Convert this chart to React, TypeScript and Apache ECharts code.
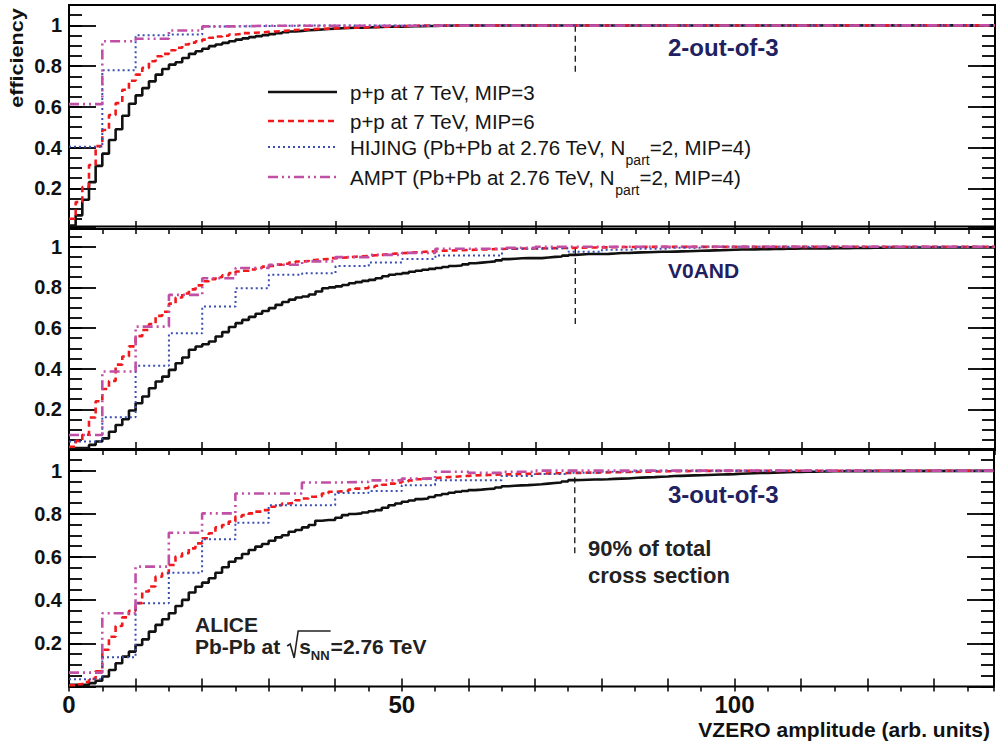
import React, { useEffect, useRef } from 'react';
import * as echarts from 'echarts';

// ---------- axis ranges ----------
const X_MAX = 139;
const Y_MAX = 1.1;
const PP_BIN = 1; // bin width of p+p histograms
const MC_BIN = 5; // bin width of HIJING / AMPT histograms
const X_TICK_LABELS = [0, 50, 100];
const Y_TICK_LABELS = [0.2, 0.4, 0.6, 0.8, 1];

const SERIES_NAMES = [
  'p+p at 7 TeV, MIP=3',
  'p+p at 7 TeV, MIP=6',
  'HIJING (Pb+Pb at 2.76 TeV, Npart=2, MIP=4)',
  'AMPT (Pb+Pb at 2.76 TeV, Npart=2, MIP=4)',
];
const PANEL_TITLES = ['2-out-of-3', 'V0AND', '3-out-of-3'];

// ---------- panel 1 : 2-out-of-3 ----------
const pp3_2of3 = [0.017, 0.067, 0.144, 0.23, 0.31, 0.37, 0.437, 0.49, 0.556, 0.615, 0.656, 0.692, 0.725, 0.758, 0.786, 0.807, 0.819, 0.84, 0.86, 0.873, 0.885, 0.898, 0.906, 0.914, 0.922, 0.93, 0.936, 0.942, 0.947, 0.952, 0.957, 0.962, 0.966, 0.97, 0.973, 0.976, 0.978, 0.98, 0.982, 0.984, 0.986, 0.987, 0.988, 0.989, 0.99, 0.991, 0.992, 0.993, 0.994, 0.994, 0.995, 0.996, 0.996, 0.997, 0.997, 0.998, 0.998, 0.999, 0.999, 1.0];
const pp6_2of3 = [0.05, 0.132, 0.206, 0.314, 0.407, 0.486, 0.56, 0.618, 0.684, 0.728, 0.758, 0.791, 0.824, 0.848, 0.86, 0.878, 0.89, 0.906, 0.915, 0.922, 0.93, 0.939, 0.945, 0.949, 0.955, 0.958, 0.962, 0.964, 0.966, 0.968, 0.97, 0.972, 0.975, 0.977, 0.979, 0.98, 0.982, 0.983, 0.984, 0.985, 0.987, 0.988, 0.989, 0.99, 0.991, 0.992, 0.993, 0.994, 0.995, 0.996, 0.997, 0.998, 0.999, 1.0];
const hijing_2of3 = [0.404, 0.779, 0.951, 0.955, 0.995, 0.997, 0.999, 1.0];
const ampt_2of3 = [0.613, 0.922, 0.934, 0.975, 0.995, 0.998, 1.0];

// ---------- panel 2 : V0AND ----------
const pp3_v0and = [0.01, 0.01, 0.01, 0.025, 0.042, 0.057, 0.09, 0.123, 0.151, 0.194, 0.23, 0.263, 0.304, 0.337, 0.361, 0.394, 0.427, 0.455, 0.493, 0.509, 0.52, 0.534, 0.558, 0.58, 0.605, 0.624, 0.64, 0.655, 0.67, 0.684, 0.698, 0.714, 0.728, 0.74, 0.75, 0.755, 0.765, 0.78, 0.796, 0.8, 0.805, 0.812, 0.82, 0.826, 0.832, 0.837, 0.845, 0.855, 0.862, 0.866, 0.87, 0.877, 0.882, 0.887, 0.891, 0.895, 0.9, 0.905, 0.908, 0.913, 0.919, 0.922, 0.925, 0.928, 0.933, 0.939, 0.941, 0.943, 0.944, 0.944, 0.944, 0.947, 0.95, 0.952, 0.956, 0.96, 0.962, 0.964, 0.964, 0.964, 0.965, 0.967, 0.969, 0.969, 0.971, 0.972, 0.973, 0.974, 0.975, 0.975, 0.976, 0.977, 0.978, 0.979, 0.98, 0.981, 0.982, 0.983, 0.984, 0.985, 0.986, 0.986, 0.987, 0.988, 0.988, 0.989, 0.989, 0.99, 0.99, 0.991, 0.991, 0.992, 0.992, 0.992, 0.993, 0.993, 0.993, 0.994, 0.994, 0.994, 0.995, 0.995, 0.996, 0.996, 0.996, 0.997];
const pp6_v0and = [0.016, 0.045, 0.075, 0.16, 0.24, 0.3, 0.34, 0.42, 0.46, 0.51, 0.56, 0.59, 0.62, 0.66, 0.68, 0.72, 0.75, 0.77, 0.79, 0.81, 0.83, 0.84, 0.85, 0.86, 0.87, 0.878, 0.882, 0.888, 0.895, 0.902, 0.906, 0.912, 0.916, 0.922, 0.927, 0.93, 0.935, 0.938, 0.94, 0.944, 0.946, 0.948, 0.951, 0.953, 0.955, 0.958, 0.96, 0.963, 0.966, 0.968, 0.97, 0.972, 0.974, 0.976, 0.978, 0.98, 0.981, 0.982, 0.983, 0.984, 0.985, 0.986, 0.987, 0.988, 0.989, 0.99, 0.99, 0.991, 0.991, 0.992, 0.992, 0.993, 0.993, 0.994, 0.994, 0.995, 0.995, 0.996, 0.996, 0.997, 0.997, 0.998, 0.998, 0.999, 0.999, 1.0];
const hijing_v0and = [0.042, 0.161, 0.415, 0.574, 0.706, 0.796, 0.862, 0.87, 0.905, 0.923, 0.94, 0.957, 0.957, 0.99, 0.993, 0.975, 0.985, 0.99, 0.995, 1.0];
const ampt_v0and = [0.074, 0.386, 0.607, 0.763, 0.845, 0.895, 0.911, 0.928, 0.949, 0.96, 0.97, 0.99, 0.99, 0.995, 1.0];

// ---------- panel 3 : 3-out-of-3 ----------
const pp3_3of3 = [0.007, 0.007, 0.007, 0.015, 0.026, 0.046, 0.076, 0.107, 0.138, 0.161, 0.192, 0.218, 0.254, 0.285, 0.311, 0.339, 0.373, 0.401, 0.435, 0.462, 0.481, 0.501, 0.527, 0.552, 0.578, 0.594, 0.614, 0.632, 0.648, 0.66, 0.675, 0.691, 0.701, 0.717, 0.725, 0.737, 0.748, 0.768, 0.771, 0.771, 0.782, 0.794, 0.799, 0.802, 0.806, 0.812, 0.817, 0.828, 0.84, 0.848, 0.856, 0.862, 0.868, 0.871, 0.878, 0.886, 0.892, 0.898, 0.902, 0.906, 0.91, 0.912, 0.915, 0.917, 0.922, 0.928, 0.93, 0.932, 0.933, 0.935, 0.937, 0.94, 0.943, 0.945, 0.95, 0.956, 0.957, 0.958, 0.959, 0.959, 0.96, 0.962, 0.963, 0.964, 0.966, 0.968, 0.969, 0.97, 0.972, 0.973, 0.975, 0.976, 0.977, 0.978, 0.979, 0.98, 0.981, 0.982, 0.983, 0.984, 0.986, 0.987, 0.988, 0.989, 0.99, 0.991, 0.992, 0.993, 0.994, 0.994, 0.995, 0.995, 0.996, 0.996, 0.997, 0.997, 0.998, 0.998, 0.999];
const pp6_3of3 = [0.005, 0.01, 0.02, 0.035, 0.07, 0.17, 0.23, 0.28, 0.32, 0.35, 0.386, 0.44, 0.463, 0.509, 0.525, 0.563, 0.602, 0.617, 0.64, 0.663, 0.687, 0.71, 0.737, 0.748, 0.764, 0.787, 0.794, 0.802, 0.81, 0.817, 0.833, 0.84, 0.848, 0.851, 0.863, 0.871, 0.879, 0.882, 0.894, 0.902, 0.904, 0.906, 0.913, 0.917, 0.92, 0.925, 0.93, 0.935, 0.94, 0.945, 0.95, 0.955, 0.96, 0.963, 0.965, 0.968, 0.97, 0.972, 0.974, 0.976, 0.978, 0.979, 0.98, 0.981, 0.982, 0.983, 0.984, 0.985, 0.985, 0.986, 0.986, 0.987, 0.988, 0.988, 0.989, 0.99, 0.99, 0.991, 0.991, 0.992, 0.992, 0.993, 0.993, 0.994, 0.994, 0.995, 0.995, 0.996, 0.996, 0.997, 0.997, 0.998, 0.998, 0.999, 0.999, 1.0];
const hijing_3of3 = [0.033, 0.135, 0.385, 0.527, 0.682, 0.759, 0.84, 0.84, 0.897, 0.906, 0.933, 0.956, 0.956, 0.975, 0.985, 0.99, 0.995, 1.0];
const ampt_3of3 = [0.064, 0.339, 0.555, 0.712, 0.802, 0.894, 0.894, 0.945, 0.948, 0.955, 0.963, 0.995, 0.99, 0.995, 1.0];

// 90% of total cross section marker (x position and y extent in each panel)
const XSEC90_X = 76;
const xsec90_2of3 = [0.998, 0.755];
const xsec90_v0and = [0.994, 0.6];
const xsec90_3of3 = [0.97, 0.6];

// ---------- layout / style ----------
const FONT = '"Liberation Sans", Arial, Helvetica, sans-serif';
const GRIDS = [
  { top: 5, height: 224 },
  { top: 226.4, height: 223.6 },
  { top: 449.1, height: 237.3 },
];
const LEFT = 69;
const PLOT_W = 926;

const STYLES = [
  { color: '#111111', width: 2.6, type: 'solid' as any },
  { color: '#f2191c', width: 2.6, type: [6, 4] as any },
  { color: '#3a4fb3', width: 2.0, type: [2, 3] as any },
  { color: '#c24fa6', width: 2.6, type: [10, 4, 2, 4, 2, 4] as any },
];

function hist(values: number[], width: number) {
  const pts: number[][] = values.map((v, i) => [i * width, v]);
  pts.push([X_MAX, values[values.length - 1]]);
  return pts;
}

function measure(text: string, font: string) {
  const c = document.createElement('canvas').getContext('2d')!;
  c.font = font;
  return c.measureText(text).width;
}

export default function App() {
  const ref = useRef<HTMLDivElement>(null);
  useEffect(() => {
    if (!ref.current) return;
    const chart = echarts.init(ref.current, undefined, { renderer: 'svg' });

    const panels = [
      { data: [pp3_2of3, pp6_2of3, hijing_2of3, ampt_2of3], vline: xsec90_2of3 },
      { data: [pp3_v0and, pp6_v0and, hijing_v0and, ampt_v0and], vline: xsec90_v0and },
      { data: [pp3_3of3, pp6_3of3, hijing_3of3, ampt_3of3], vline: xsec90_3of3 },
    ];

    const grid: any[] = [];
    const xAxis: any[] = [];
    const yAxis: any[] = [];
    const series: any[] = [];

    panels.forEach((p, gi) => {
      grid.push({
        left: LEFT, width: PLOT_W, top: GRIDS[gi].top, height: GRIDS[gi].height,
        show: true, borderColor: '#000', borderWidth: 2, backgroundColor: 'transparent',
      });
      const isBottom = gi === 2;
      xAxis.push({
        gridIndex: gi, type: 'value', position: 'bottom', min: 0, max: X_MAX, interval: 10,
        axisLine: { show: false }, splitLine: { show: false },
        axisTick: { show: true, inside: true, length: 8, lineStyle: { color: '#000', width: 1.5 } },
        axisLabel: {
          show: isBottom, margin: 6, color: '#111', fontFamily: FONT, fontWeight: 'bold', fontSize: 24,
          formatter: (v: number) => (X_TICK_LABELS.indexOf(v) >= 0 ? String(v) : ''),
        },
      });
      xAxis.push({
        gridIndex: gi, type: 'value', position: 'top', min: 0, max: X_MAX, interval: 5,
        axisLine: { show: false }, splitLine: { show: false },
        axisTick: { show: true, inside: true, length: 5, lineStyle: { color: '#000', width: 1.5 } },
        axisLabel: { show: false },
      });
      yAxis.push({
        gridIndex: gi, type: 'value', position: 'left', min: 0, max: Y_MAX, interval: 0.2,
        axisLine: { show: false }, splitLine: { show: false },
        axisTick: { show: true, inside: true, length: 27, lineStyle: { color: '#000', width: 1.8 } },
        axisLabel: {
          show: true, margin: 7, color: '#111', fontFamily: FONT, fontWeight: 'bold', fontSize: 20,
          formatter: (v: number) => {
            const hit = Y_TICK_LABELS.find((t) => Math.abs(t - v) < 1e-6);
            return hit === undefined ? '' : String(hit);
          },
        },
      });
      yAxis.push({
        gridIndex: gi, type: 'value', position: 'left', min: 0, max: Y_MAX, interval: 0.05,
        axisLine: { show: false }, splitLine: { show: false },
        axisTick: { show: true, inside: true, length: 13, lineStyle: { color: '#000', width: 1.8 } },
        axisLabel: { show: false },
      });
      yAxis.push({
        gridIndex: gi, type: 'value', position: 'right', min: 0, max: Y_MAX, interval: 0.2,
        axisLine: { show: false }, splitLine: { show: false },
        axisTick: { show: true, inside: true, length: 27, lineStyle: { color: '#000', width: 1.8 } },
        axisLabel: { show: false },
      });
      yAxis.push({
        gridIndex: gi, type: 'value', position: 'right', min: 0, max: Y_MAX, interval: 0.05,
        axisLine: { show: false }, splitLine: { show: false },
        axisTick: { show: true, inside: true, length: 13, lineStyle: { color: '#000', width: 1.8 } },
        axisLabel: { show: false },
      });

      p.data.forEach((vals, si) => {
        const bw = si < 2 ? PP_BIN : MC_BIN;
        series.push({
          name: SERIES_NAMES[si], type: 'line', step: 'end',
          xAxisIndex: gi * 2, yAxisIndex: gi * 4,
          data: hist(vals, bw), showSymbol: false, symbol: 'none', silent: true,
          lineStyle: { color: STYLES[si].color, width: STYLES[si].width, type: STYLES[si].type, cap: 'butt' },
          z: 2 + si,
        });
      });
      series.push({
        type: 'line', xAxisIndex: gi * 2, yAxisIndex: gi * 4,
        data: p.vline.map((v) => [XSEC90_X, v]), showSymbol: false, symbol: 'none', silent: true,
        lineStyle: { color: '#222', width: 1.4, type: [6, 4] },
        z: 1,
      });
    });

    // ----- graphic texts / legend -----
    const LEG_FS = 20.5;
    const LEG_SUB_FS = 14;
    const legFont = `${LEG_FS}px ${FONT}`;
    const legSubFont = `${LEG_SUB_FS}px ${FONT}`;
    const graphic: any[] = [];
    const legY = [92, 121, 147, 177];
    const legText = [
      ['p+p at 7 TeV, MIP=3'],
      ['p+p at 7 TeV, MIP=6'],
      ['HIJING (Pb+Pb at 2.76 TeV, N', 'part', '=2, MIP=4)'],
      ['AMPT (Pb+Pb at 2.76 TeV, N', 'part', '=2, MIP=4)'],
    ];
    legY.forEach((y, i) => {
      graphic.push({
        type: 'line', shape: { x1: 268, y1: y, x2: 337, y2: y },
        style: { stroke: STYLES[i].color, lineWidth: STYLES[i].width, lineDash: STYLES[i].type === 'solid' ? null : STYLES[i].type },
      });
      const parts = legText[i];
      let x = 350;
      parts.forEach((t, k) => {
        const isSub = k === 1;
        graphic.push({
          type: 'text', x, y: isSub ? y + 13 : y,
          style: {
            text: t, fill: '#151515', fontFamily: FONT, fontSize: isSub ? LEG_SUB_FS : LEG_FS,
            align: 'left', verticalAlign: 'middle',
          },
        });
        x += measure(t, isSub ? legSubFont : legFont);
      });
    });

    const titleCol = '#1f2160';
    const titles = [
      { x: 668, y: 47, size: 24 },
      { x: 668, y: 270, size: 21 },
      { x: 668, y: 494, size: 24 },
    ];
    titles.forEach((t, i) => {
      graphic.push({
        type: 'text', x: t.x, y: t.y,
        style: { text: PANEL_TITLES[i], fill: titleCol, fontFamily: FONT, fontWeight: 'bold', fontSize: t.size, align: 'left', verticalAlign: 'middle' },
      });
    });

    // 90% of total cross section (two separate lines)
    graphic.push({
      type: 'text', x: 588, y: 548,
      style: { text: '90% of total', fill: '#222', fontFamily: FONT, fontWeight: 'bold', fontSize: 22, align: 'left', verticalAlign: 'middle' },
    });
    graphic.push({
      type: 'text', x: 588, y: 575,
      style: { text: 'cross section', fill: '#222', fontFamily: FONT, fontWeight: 'bold', fontSize: 22, align: 'left', verticalAlign: 'middle' },
    });

    // ALICE label
    const A_FS = 21;
    const aFont = `bold ${A_FS}px ${FONT}`;
    const aSubFont = `bold 13px ${FONT}`;
    graphic.push({
      type: 'text', x: 195, y: 624,
      style: { text: 'ALICE', fill: '#222', fontFamily: FONT, fontWeight: 'bold', fontSize: A_FS, align: 'left', verticalAlign: 'middle' },
    });
    let ax = 195;
    const pbText = 'Pb-Pb at';
    const PB_Y = 646;
    graphic.push({
      type: 'text', x: ax, y: PB_Y,
      style: { text: pbText, fill: '#222', fontFamily: FONT, fontWeight: 'bold', fontSize: A_FS, align: 'left', verticalAlign: 'middle' },
    });
    ax += measure(pbText, aFont) + 7;
    const sx = ax + 12;
    const sW = measure('s', aFont);
    const nnW = measure('NN', aSubFont);
    graphic.push({
      type: 'polyline',
      shape: { points: [[ax, PB_Y], [ax + 3, PB_Y - 2], [ax + 7, PB_Y + 12], [ax + 11, PB_Y - 15], [sx + sW + nnW + 1, PB_Y - 15]] },
      style: { stroke: '#222', lineWidth: 1.6, fill: null },
    });
    graphic.push({
      type: 'text', x: sx, y: PB_Y,
      style: { text: 's', fill: '#222', fontFamily: FONT, fontWeight: 'bold', fontSize: A_FS, align: 'left', verticalAlign: 'middle' },
    });
    graphic.push({
      type: 'text', x: sx + sW, y: PB_Y + 9,
      style: { text: 'NN', fill: '#222', fontFamily: FONT, fontWeight: 'bold', fontSize: 13, align: 'left', verticalAlign: 'middle' },
    });
    graphic.push({
      type: 'text', x: sx + sW + nnW + 1, y: PB_Y,
      style: { text: '=2.76 TeV', fill: '#222', fontFamily: FONT, fontWeight: 'bold', fontSize: A_FS, align: 'left', verticalAlign: 'middle' },
    });

    // axis titles
    graphic.push({
      type: 'text', x: 990, y: 729,
      style: { text: 'VZERO amplitude (arb. units)', fill: '#111', fontFamily: FONT, fontWeight: 'bold', fontSize: 21, align: 'right', verticalAlign: 'middle' },
    });
    graphic.push({
      type: 'text', x: 17, y: 58, rotation: Math.PI / 2, scaleX: 1.2,
      style: { text: 'efficiency', fill: '#111', fontFamily: FONT, fontWeight: 'bold', fontSize: 18, align: 'center', verticalAlign: 'middle' },
    });

    chart.setOption({
      animation: false,
      backgroundColor: '#ffffff',
      grid, xAxis, yAxis, series, graphic,
    });
    return () => chart.dispose();
  }, []);

  return <div ref={ref} style={{ position: 'fixed', left: 0, top: 0, width: 997, height: 741 }} />;
}
